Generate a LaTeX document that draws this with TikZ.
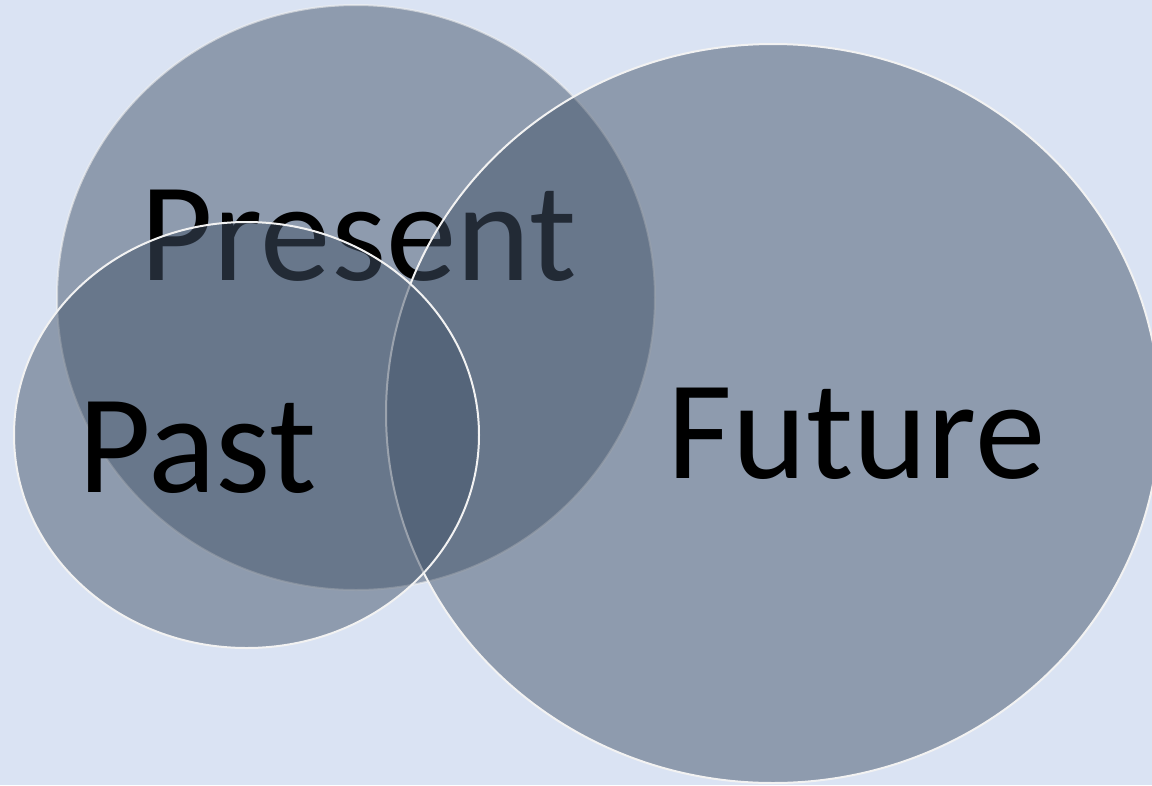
\documentclass[tikz,border=0pt]{standalone}
\usepackage{fontspec}
\setmainfont{Carlito}
\usetikzlibrary{shapes.geometric}
\definecolor{bgcol}{HTML}{DAE3F3}
\definecolor{blobcol}{HTML}{44546A}
\definecolor{rimcol}{HTML}{F2F2F2}
\tikzset{
  blob/.style={ellipse, inner sep=0pt, outer sep=0pt, fill=blobcol, fill opacity=0.5, draw=rimcol, line width=2pt},
  word/.style={anchor=base, inner sep=0pt, text=black, font=\fontsize{141}{145}\selectfont}
}
\begin{document}
\begin{tikzpicture}[x=1pt,y=-1pt]
\fill[bgcol] (0,0) rectangle (1152,785);
\useasboundingbox (0,0) rectangle (1152,785);
% Present
\node[blob, draw opacity=0.6, minimum width=598pt, minimum height=585pt] (present) at (356,297.5) {};
\node[word] (presenttext) at (358.5,280) {Present};
% Future
\node[blob, minimum width=774pt, minimum height=739pt] (future) at (773,413.5) {};
\node[word] (futuretext) at (856.5,478) {Future};
% Past
\node[blob, minimum width=465pt, minimum height=426pt] (past) at (246.5,435) {};
\node[word] (pasttext) at (197.5,492) {Past};
\end{tikzpicture}
\end{document}
